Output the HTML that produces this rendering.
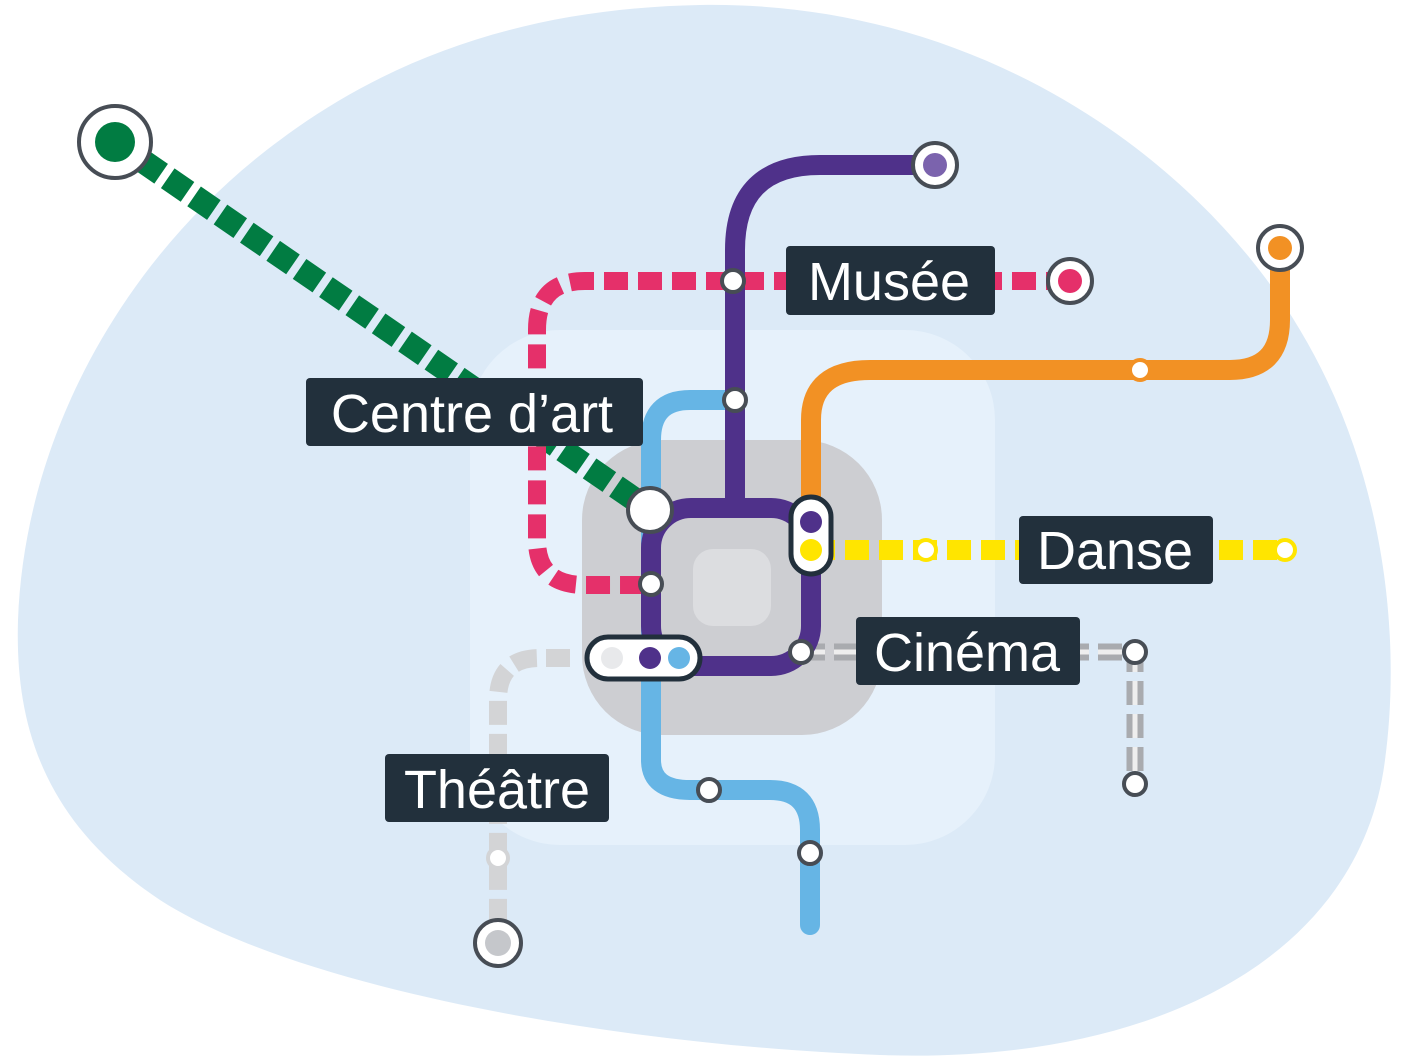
<!DOCTYPE html>
<html><head><meta charset="utf-8"><style>
html,body{margin:0;padding:0;background:#fff;}
svg{display:block;}
text{font-family:"Liberation Sans",sans-serif;fill:#fff;font-size:54px;}
</style></head><body>
<svg width="1410" height="1063" viewBox="0 0 1410 1063" xmlns="http://www.w3.org/2000/svg">
<path d="M700,5 C980,0 1200,160 1300,330 C1390,480 1400,650 1385,760 C1360,960 1150,1065 880,1055 C620,1045 300,990 160,900 C40,820 15,720 18,620 C25,430 130,250 280,140 C400,50 540,8 700,5 Z" fill="#dceaf7"/>
<rect x="470" y="330" width="525" height="515" rx="90" fill="#e6f1fb"/>
<rect x="582" y="440" width="300" height="295" rx="80" fill="#cdced2"/>
<rect x="693" y="549" width="78" height="77" rx="20" fill="#dcdde0"/>

<line x1="115" y1="142" x2="650" y2="510" stroke="#017c42" stroke-width="24" stroke-dasharray="24 8"/>
<path d="M1070,281 H585 Q537,281 537,330 V540 Q537,585 585,585 H650" fill="none" stroke="#e5306a" stroke-width="18" stroke-dasharray="24 10"/>
<path d="M570,658 H540 Q498,658 498,700 V943" fill="none" stroke="#d3d4d6" stroke-width="18" stroke-dasharray="24 9"/>
<path d="M801,652 H1135 V784" fill="none" stroke="#a9abaf" stroke-width="17" stroke-dasharray="24 9"/>
<path d="M801,652 H1135 V784" fill="none" stroke="#eeeeee" stroke-width="5" stroke-dasharray="24 9"/>
<path d="M735,400 H690 Q651,400 651,440 V760 Q651,790 690,790 H770 Q810,790 810,830 V925" fill="none" stroke="#66b5e5" stroke-width="20" stroke-linecap="round"/>
<path d="M811,510 V420 Q811,370 870,370 H1230 Q1280,370 1280,320 V248" fill="none" stroke="#f29124" stroke-width="20"/>
<line x1="811" y1="550" x2="1285" y2="550" stroke="#ffe500" stroke-width="20" stroke-dasharray="24 10"/>
<path d="M935,165 H820 Q735,165 735,250 V510" fill="none" stroke="#4f318a" stroke-width="20"/>
<rect x="651" y="508" width="160" height="158" rx="40" fill="none" stroke="#4f318a" stroke-width="20"/>

<g stroke="#474d55" stroke-width="4">
<circle cx="115" cy="142" r="36" fill="#fff"/>
<circle cx="935" cy="165" r="22" fill="#fff"/>
<circle cx="1070" cy="281" r="22" fill="#fff"/>
<circle cx="1280" cy="248" r="22" fill="#fff"/>
<circle cx="498" cy="943" r="23" fill="#fff"/>
</g>
<circle cx="115" cy="142" r="20" fill="#017c42"/>
<circle cx="935" cy="165" r="12" fill="#7b63ad"/>
<circle cx="1070" cy="281" r="12" fill="#e5306a"/>
<circle cx="1280" cy="248" r="12" fill="#f29124"/>
<circle cx="498" cy="943" r="13" fill="#c5c7cb"/>

<g fill="#fff" stroke="#474d55" stroke-width="4">
<circle cx="733" cy="281" r="11"/>
<circle cx="735" cy="400" r="11"/>
<circle cx="651" cy="584" r="11"/>
<circle cx="801" cy="652" r="11"/>
<circle cx="1135" cy="652" r="11"/>
<circle cx="1135" cy="784" r="11"/>
<circle cx="709" cy="790" r="11"/>
<circle cx="810" cy="853" r="11"/>
<circle cx="650" cy="510" r="22"/>
</g>
<circle cx="1140" cy="370" r="10" fill="#fff" stroke="#f29124" stroke-width="4"/>
<circle cx="926" cy="550" r="10" fill="#fff" stroke="#ffe500" stroke-width="4"/>
<circle cx="1285" cy="550" r="10" fill="#fff" stroke="#ffe500" stroke-width="4"/>
<circle cx="498" cy="858" r="10" fill="#fff" stroke="#d3d4d6" stroke-width="4"/>

<rect x="791" y="497" width="40" height="77" rx="20" fill="#fff" stroke="#22303c" stroke-width="5"/>
<circle cx="811" cy="522" r="11" fill="#4f318a"/>
<circle cx="811" cy="550" r="11" fill="#ffe500"/>
<rect x="587" y="637" width="113" height="42" rx="21" fill="#fff" stroke="#22303c" stroke-width="5"/>
<circle cx="612" cy="658" r="11" fill="#e8e9eb"/>
<circle cx="650" cy="658" r="11" fill="#4f318a"/>
<circle cx="679" cy="658" r="11" fill="#66b5e5"/>

<g fill="#22303c">
<rect x="786" y="246" width="209" height="69" rx="4"/>
<rect x="306" y="378" width="337" height="68" rx="4"/>
<rect x="1019" y="516" width="194" height="68" rx="4"/>
<rect x="856" y="617" width="224" height="68" rx="4"/>
<rect x="385" y="754" width="224" height="68" rx="4"/>
</g>
<text x="889" y="300" text-anchor="middle">Musée</text>
<text x="472" y="432" text-anchor="middle">Centre d’art</text>
<text x="1115" y="569" text-anchor="middle">Danse</text>
<text x="967" y="671" text-anchor="middle">Cinéma</text>
<text x="497" y="808" text-anchor="middle">Théâtre</text>
</svg>
</body></html>
